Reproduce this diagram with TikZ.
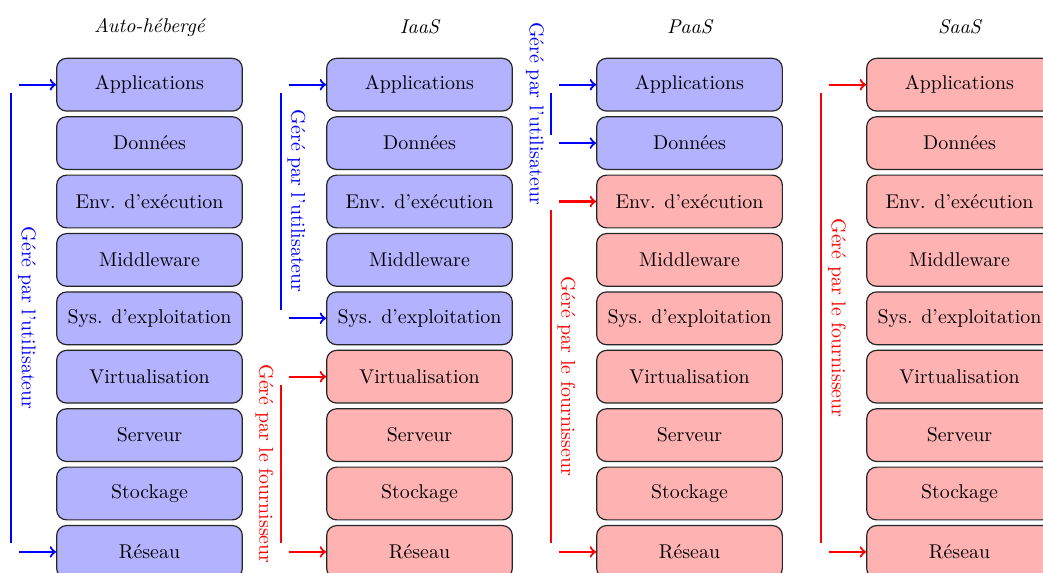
\documentclass[tikz,border=0pt]{standalone}
\usepackage{fontspec}
\usetikzlibrary{calc}
\tikzset{
  layer/.style={draw=black!85, line width=0.6pt, rounded corners=5pt,
    minimum width=93.3pt, minimum height=26.5pt, inner sep=0pt},
  userbox/.style={layer, fill=blue!30},
  provbox/.style={layer, fill=red!30},
  rail/.style={line width=1.1pt},
  railtip/.style={rail, ->},
  title/.style={font=\itshape},
  side/.style={rotate=-90, inner sep=0pt}
}
\begin{document}
\begin{tikzpicture}[x=0.5025pt, y=-0.5025pt]
\path[use as bounding box, clip] (0,0) rectangle (1043,572);

% the four service models, each a stack of nine layers
\foreach \c/\cx/\nb/\name in {1/149.5/9/Auto-hébergé, 2/419.5/5/IaaS, 3/689.5/2/PaaS, 4/959.5/0/SaaS}{
  \node[title] (t\c) at (\cx,27) {\name};
  \foreach \t [count=\i from 0] in {Applications,Données,Env. d'exécution,Middleware,Sys. d'exploitation,Virtualisation,Serveur,Stockage,Réseau}{
    \ifnum\i<\nb \def\kind{userbox}\else\def\kind{provbox}\fi
    \node[\kind] (c\c r\i) at (\cx,{84.7+58.4*\i}) {\t};
  }
}

% who manages which layers: a rail with arrows to the first and last layer
\foreach \c/\a/\b/\col/\off/\txt in {
  1/0/8/blue/16/{Géré par l'utilisateur},
  2/0/4/blue/15.5/{Géré par l'utilisateur},
  2/5/8/red/-16.5/{Géré par le fournisseur},
  3/0/1/blue/-16/{Géré par l'utilisateur},
  3/2/8/red/15.5/{Géré par le fournisseur},
  4/0/8/red/16/{Géré par le fournisseur}}{
  \coordinate (top\c\a) at ($(c\c r\a.west)+(-45,8)$);
  \coordinate (bot\c\a) at ($(c\c r\b.west)+(-45,-8.5)$);
  \coordinate (sa\c\a) at ($(c\c r\a.west)+(-37.5,0)$);
  \coordinate (sb\c\a) at ($(c\c r\b.west)+(-37.5,0)$);
  \draw[rail, \col] (top\c\a) -- (bot\c\a);
  \draw[railtip, \col] (sa\c\a) -- (c\c r\a.west);
  \draw[railtip, \col] (sb\c\a) -- (c\c r\b.west);
  \node[side, text=\col] (lab\c\a) at ($(top\c\a)!0.5!(bot\c\a)+(\off,0)$) {\txt};
}
\end{tikzpicture}
\end{document}
